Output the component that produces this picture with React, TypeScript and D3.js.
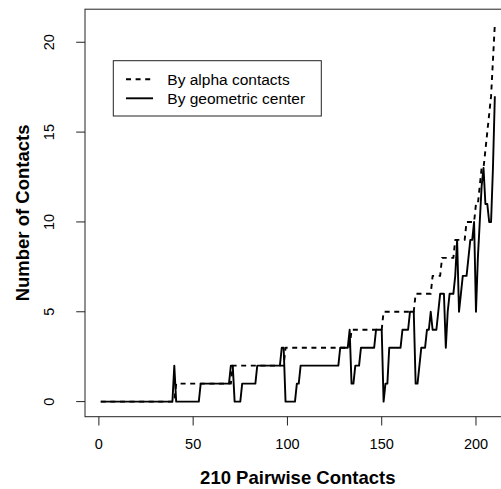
import React from 'react';
import * as d3 from 'd3';

const xTicks = [0, 50, 100, 150, 200];
const yTicks = [0, 5, 10, 15, 20];

// "By alpha contacts" (dashed), pairwise contacts 1..210
const alphaContacts = [
  0, 0, 0, 0, 0, 0, 0, 0, 0, 0,
  0, 0, 0, 0, 0, 0, 0, 0, 0, 0,
  0, 0, 0, 0, 0, 0, 0, 0, 0, 0,
  0, 0, 0, 0, 0, 0, 0, 0, 0, 0,
  1, 1, 1, 1, 1, 1, 1, 1, 1, 1,
  1, 1, 1, 1, 1, 1, 1, 1, 1, 1,
  1, 1, 1, 1, 1, 1, 1, 1, 1, 1,
  2, 2, 2, 2, 2, 2, 2, 2, 2, 2,
  2, 2, 2, 2, 2, 2, 2, 2, 2, 2,
  2, 2, 2, 2, 2, 2, 2, 2, 3, 3,
  3, 3, 3, 3, 3, 3, 3, 3, 3, 3,
  3, 3, 3, 3, 3, 3, 3, 3, 3, 3,
  3, 3, 3, 3, 3, 3, 3, 3, 3, 3,
  3, 3, 3, 4, 4, 4, 4, 4, 4, 4,
  4, 4, 4, 4, 4, 4, 4, 4, 4, 4,
  5, 5, 5, 5, 5, 5, 5, 5, 5, 5,
  5, 5, 5, 5, 5, 5, 5, 6, 6, 6,
  6, 6, 6, 6, 6, 6, 7, 7, 7, 7,
  7, 8, 8, 8, 8, 8, 8, 8, 9, 9,
  9, 9, 9, 9, 10, 10, 10, 10, 10, 11,
  11, 12, 13, 13, 14, 15, 16, 17, 19, 21,
];

// "By geometric center" (solid), same order
const geometricCenter = [
  0, 0, 0, 0, 0, 0, 0, 0, 0, 0,
  0, 0, 0, 0, 0, 0, 0, 0, 0, 0,
  0, 0, 0, 0, 0, 0, 0, 0, 0, 0,
  0, 0, 0, 0, 0, 0, 0, 0, 0, 2,
  0, 0, 0, 0, 0, 0, 0, 0, 0, 0,
  0, 0, 0, 1, 1, 1, 1, 1, 1, 1,
  1, 1, 1, 1, 1, 1, 1, 1, 1, 2,
  2, 0, 0, 0, 0, 1, 1, 1, 1, 1,
  1, 1, 1, 2, 2, 2, 2, 2, 2, 2,
  2, 2, 2, 2, 2, 2, 3, 3, 0, 0,
  0, 0, 0, 0, 1, 1, 2, 2, 2, 2,
  2, 2, 2, 2, 2, 2, 2, 2, 2, 2,
  2, 2, 2, 2, 2, 2, 2, 3, 3, 3,
  3, 3, 4, 1, 1, 2, 2, 2, 3, 3,
  3, 3, 3, 3, 3, 3, 4, 4, 4, 4,
  0, 1, 1, 3, 3, 3, 3, 3, 3, 3,
  4, 4, 4, 4, 5, 5, 5, 1, 1, 2,
  3, 3, 3, 4, 4, 5, 4, 4, 4, 5,
  6, 6, 6, 3, 5, 6, 6, 6, 7, 9,
  5, 6, 7, 7, 7, 8, 9, 9, 10, 5,
  8, 10, 12, 13, 11, 11, 10, 10, 13, 17,
];

const legendLabels = ['By alpha contacts', 'By geometric center'];
const xTitle = '210 Pairwise Contacts';
const yTitle = 'Number of Contacts';

const FONT = '"Liberation Sans", Arial, Helvetica, sans-serif';

export default function App() {
  const W = 501;
  const H = 489;
  const n = alphaContacts.length;
  const xPad = (n - 1) * 0.04;
  const yMax = d3.max([...alphaContacts, ...geometricCenter]) as number;
  const yPad = yMax * 0.04;

  const x = d3.scaleLinear().domain([1 - xPad, n + xPad]).range([85, 510.6]);
  const y = d3.scaleLinear().domain([-yPad, yMax + yPad]).range([416.7, 9.2]);

  const line = d3
    .line<number>()
    .x((_, i) => x(i + 1))
    .y((d) => y(d));

  const [x0, x1] = x.range();
  const [yb, yt] = y.range();
  const plotCx = (x0 + x1) / 2;
  const plotCy = (yb + yt) / 2;

  const legX = 113.3;
  const legY = 60.7;
  const legW = 208;
  const legH = 55.3;
  const rowY = [79.3, 98.3];

  return (
    <svg
      width={W}
      height={H}
      style={{ position: 'absolute', left: 0, top: 0, background: '#fff' }}
      fontFamily={FONT}
    >
      <rect x={0} y={0} width={W} height={H} fill="#fff" />
      {/* series */}
      <path
        d={line(alphaContacts) || ''}
        fill="none"
        stroke="#000"
        strokeWidth={1.9}
        strokeDasharray="5,4.6"
        strokeLinejoin="round"
      />
      <path
        d={line(geometricCenter) || ''}
        fill="none"
        stroke="#000"
        strokeWidth={1.9}
        strokeLinejoin="round"
      />
      {/* box */}
      <rect x={x0} y={yt} width={x1 - x0} height={yb - yt} fill="none" stroke="#222" strokeWidth={1} />
      {/* x axis */}
      {xTicks.map((t) => (
        <g key={'xt' + t}>
          <line x1={x(t)} x2={x(t)} y1={yb} y2={yb + 8.8} stroke="#222" strokeWidth={1} />
          <text x={x(t)} y={449} textAnchor="middle" fontSize={14.5} fill="#000">
            {t}
          </text>
        </g>
      ))}
      {/* y axis */}
      {yTicks.map((t) => (
        <g key={'yt' + t}>
          <line x1={x0} x2={x0 - 8.8} y1={y(t)} y2={y(t)} stroke="#222" strokeWidth={1} />
          <text
            transform={`translate(53.5,${y(t)}) rotate(-90)`}
            textAnchor="middle"
            fontSize={14.5}
            fill="#000"
          >
            {t}
          </text>
        </g>
      ))}
      <text x={plotCx} y={484} textAnchor="middle" fontSize={18.5} fontWeight="bold" fill="#000">
        {xTitle}
      </text>
      <text
        transform={`translate(29,${plotCy}) rotate(-90)`}
        textAnchor="middle"
        fontSize={18.5}
        fontWeight="bold"
        fill="#000"
      >
        {yTitle}
      </text>
      {/* legend */}
      <rect x={legX} y={legY} width={legW} height={legH} fill="#fff" stroke="#222" strokeWidth={1} />
      {legendLabels.map((lab, i) => (
        <g key={lab}>
          <line
            x1={126}
            x2={153}
            y1={rowY[i]}
            y2={rowY[i]}
            stroke="#000"
            strokeWidth={1.9}
            strokeDasharray={i === 0 ? '5,4.6' : undefined}
          />
          <text x={167.3} y={rowY[i]} dy="0.36em" fontSize={15.5} fill="#000">
            {lab}
          </text>
        </g>
      ))}
    </svg>
  );
}
